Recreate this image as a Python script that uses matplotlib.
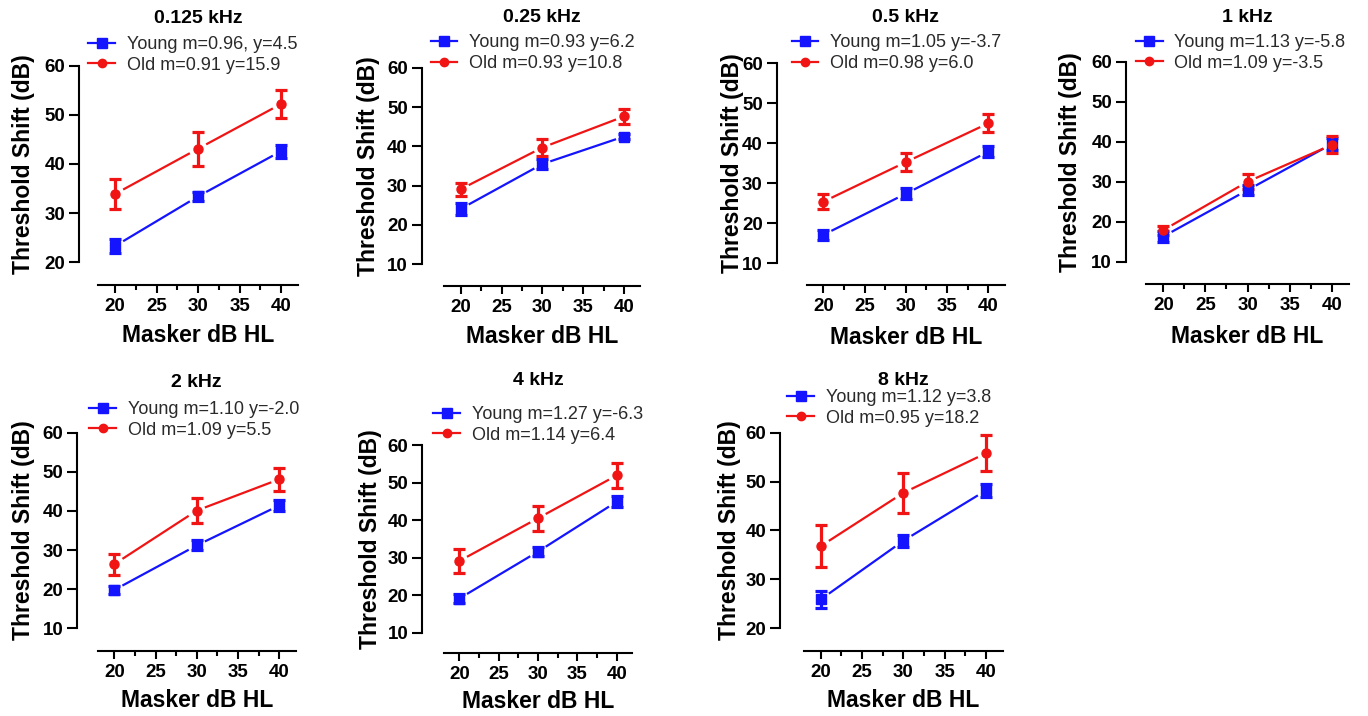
import numpy as np
import matplotlib.pyplot as plt
from matplotlib.lines import Line2D

plt.rcParams['font.family'] = ['Liberation Sans', 'DejaVu Sans']

# ---- data ----
titles = ['0.125 kHz', '0.25 kHz', '0.5 kHz', '1 kHz', '2 kHz', '4 kHz', '8 kHz']
masker = [20, 30, 40]

young_mean = [[23.3, 33.4, 42.6], [24.1, 35.5, 42.5], [17.1, 27.4, 37.9], [16.3, 27.9, 39.4],
              [19.8, 31.2, 41.4], [19.1, 31.6, 44.9], [25.9, 37.9, 48.2]]
young_err = [[1.4, 0.9, 1.3], [1.5, 1.3, 0.7], [1.3, 1.4, 1.4], [1.4, 1.2, 1.6],
             [1.0, 1.3, 1.4], [1.2, 1.2, 1.4], [1.7, 1.2, 1.3]]
old_mean = [[33.9, 43.1, 52.2], [29.1, 39.7, 47.6], [25.4, 35.3, 45.0], [17.9, 30.0, 39.2],
            [26.4, 40.1, 48.1], [29.1, 40.5, 51.9], [36.8, 47.7, 55.8]]
old_err = [[3.1, 3.5, 2.8], [1.7, 2.2, 2.0], [1.9, 2.2, 2.2], [1.1, 1.8, 2.1],
           [2.7, 3.2, 2.9], [3.3, 3.3, 3.3], [4.3, 4.1, 3.7]]

young_labels = ['Young m=0.96, y=4.5', 'Young m=0.93 y=6.2', 'Young m=1.05 y=-3.7', 'Young m=1.13 y=-5.8',
                'Young m=1.10 y=-2.0', 'Young m=1.27 y=-6.3', 'Young m=1.12 y=3.8']
old_labels = ['Old m=0.91 y=15.9', 'Old m=0.93 y=10.8', 'Old m=0.98 y=6.0', 'Old m=1.09 y=-3.5',
              'Old m=1.09 y=5.5', 'Old m=1.14 y=6.4', 'Old m=0.95 y=18.2']
y_low = [20, 10, 10, 10, 10, 10, 20]

# ---- layout in pixels ----
W, H = 1368, 716
spine_x = [79, 421.7, 776.7, 1126, 77.3, 422.3, 780]
y60_px = [65.7, 67.7, 63.3, 61.7, 432.7, 445, 432.7]
ylo_px = [262.3, 264.3, 263.3, 261.7, 628.3, 632.7, 628.3]
xaxis_px = [285, 285.7, 285, 284, 651, 653.3, 651]
x20_px = [115, 460.7, 823.3, 1163.3, 114.3, 459.3, 820.7]
x40_px = [281, 624, 988.3, 1331.7, 279.3, 616.7, 986]
ylab_x = [24, 369, 732, 1071, 24, 371, 730]
title_base = [22.7, 21.7, 21.7, 21.7, 386.7, 385, 385]
xlab_base = [341.7, 343, 344, 343, 706.7, 708, 706.7]
leg_x = [88.3, 430.7, 791.7, 1136, 89.3, 433.3, 787.3]
leg_y = [54.7, 53.3, 53.3, 52.8, 419.7, 425, 408]

blue = '#1414ff'
red = '#f01414'
gap = 1.1

fig = plt.figure(figsize=(W / 100, H / 100), dpi=100)

for i in range(len(titles)):
    ppu = (x40_px[i] - x20_px[i]) / 20.0
    left = x20_px[i] - 2 * ppu
    right = x40_px[i] + 2 * ppu
    ppd = (ylo_px[i] - y60_px[i]) / (60.0 - y_low[i])
    ymin = y_low[i] - (xaxis_px[i] - ylo_px[i]) / ppd
    ax = fig.add_axes([left / W, 1 - xaxis_px[i] / H, (right - left) / W, (xaxis_px[i] - y60_px[i]) / H])
    ax.set_xlim(18, 42)
    ax.set_ylim(ymin, 60)

    for sp in ['top', 'right']:
        ax.spines[sp].set_visible(False)
    ax.spines['left'].set_position(('outward', (left - spine_x[i]) * 0.72))
    ax.spines['left'].set_bounds(y_low[i], 60)
    ax.spines['left'].set_linewidth(1.5)
    ax.spines['bottom'].set_linewidth(1.5)

    ax.set_yticks(np.arange(y_low[i], 61, 10))
    ax.set_xticks([20, 25, 30, 35, 40])
    ax.set_xticks([22.5, 27.5, 32.5, 37.5], minor=True)
    ax.tick_params(axis='x', which='major', length=5.5, width=1.5, pad=4, labelsize=13.5)
    ax.tick_params(axis='x', which='minor', length=3.5, width=1.5)
    ax.tick_params(axis='y', length=7, width=1.5, pad=3, labelsize=13.5)
    for lbl in ax.get_xticklabels() + ax.get_yticklabels():
        lbl.set_fontweight('bold')

    for mean, err, col, mk, ms in [(young_mean[i], young_err[i], blue, 's', 7.5),
                                   (old_mean[i], old_err[i], red, 'o', 6.5)]:
        for j in range(len(masker) - 1):
            x0, x1 = masker[j], masker[j + 1]
            xs = np.array([x0 + gap, x1 - gap])
            ys = mean[j] + (mean[j + 1] - mean[j]) * (xs - x0) / (x1 - x0)
            ax.plot(xs, ys, color=col, lw=1.6)
        ax.errorbar(masker, mean, yerr=err, fmt=mk, color=col, ms=ms, capsize=4.5,
                    elinewidth=2.3, capthick=2.3, linestyle='none', clip_on=False)

    cx = (left + right) / 2
    fig.text(cx / W, 1 - title_base[i] / H, titles[i], ha='center', va='baseline',
             fontsize=14, fontweight='bold')
    fig.text(cx / W, 1 - xlab_base[i] / H, 'Masker dB HL', ha='center', va='baseline',
             fontsize=16.5, fontweight='bold')
    fig.text(ylab_x[i] / W, 1 - (y60_px[i] + ylo_px[i]) / 2 / H, 'Threshold Shift (dB)',
             ha='center', va='center', rotation=90, fontsize=16.5, fontweight='bold')

    handles = [Line2D([], [], color=blue, marker='s', ms=7, lw=1.6),
               Line2D([], [], color=red, marker='o', ms=6, lw=1.6)]
    fig.legend(handles, [young_labels[i], old_labels[i]], loc='center left',
               bbox_to_anchor=(leg_x[i] / W, 1 - leg_y[i] / H), frameon=False,
               borderpad=0, borderaxespad=0, handlelength=1.48, handletextpad=0.65,
               labelspacing=0.2, prop={'size': 13}, labelcolor='#2a2a2a')

fig.savefig('out.png', dpi=100)
